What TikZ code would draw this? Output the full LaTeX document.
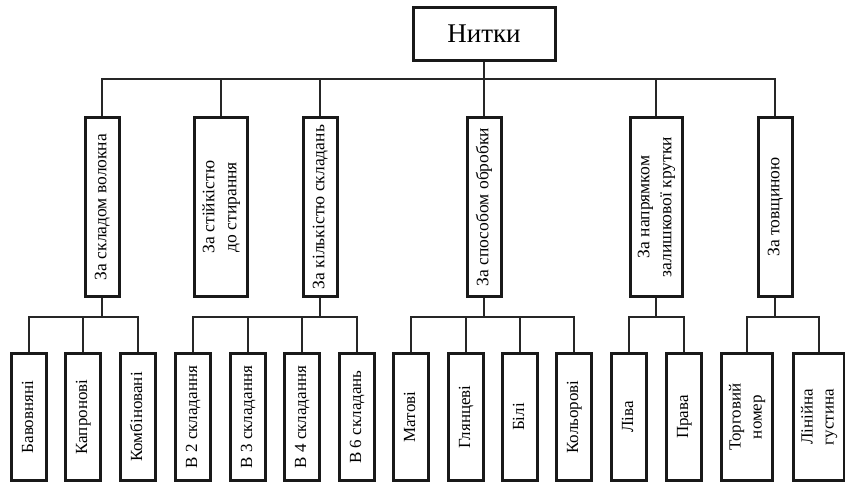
\documentclass[tikz,border=0pt]{standalone}
\usepackage{graphicx}
\usepackage{fontspec}
\setmainfont{Liberation Serif}
\usetikzlibrary{positioning}
\newcommand{\rottext}[1]{\rotatebox{90}{\begin{tabular}{@{}c@{}}#1\end{tabular}}}

\begin{document}
\begin{tikzpicture}[x=1pt, y=-1pt,
  bx/.style={draw=black!90, line width=3pt, inner sep=0pt, align=center},
  topbx/.style={bx, minimum width=142pt, minimum height=53pt, font=\fontsize{27}{30}\selectfont},
  catbx/.style={bx, minimum width=34pt, minimum height=179pt, font=\fontsize{17.5}{22}\selectfont},
  leafbx/.style={bx, minimum width=35pt, minimum height=127pt, font=\fontsize{17}{21}\selectfont},
  ln/.style={draw=black!85, line width=1.1pt}]
\useasboundingbox (0,0) rectangle (845,484);
% Root
\node[topbx] (root) at (484,34) {Нитки};
% Categories
\node[catbx] (fibre) at (102,207) {\rottext{За складом волокна}};
\node[catbx, minimum width=53pt] (wear) at (221,207) {\rottext{За стійкістю\\до стирання}};
\node[catbx] (ply) at (320,207) {\rottext{За кількістю складань}};
\node[catbx] (finish) at (484,207) {\rottext{За способом обробки}};
\node[catbx, minimum width=52pt] (twist) at (656,207) {\rottext{За напрямком\\залишкової крутки}};
\node[catbx] (thick) at (775,207) {\rottext{За товщиною}};
% Leaves: fibre
\node[leafbx] (cotton) at (29,417) {\rottext{Бавовняні}};
\node[leafbx] (nylon) at (83,417) {\rottext{Капронові}};
\node[leafbx] (mixed) at (138,417) {\rottext{Комбіновані}};
% Leaves: ply
\node[leafbx] (ply2) at (193,417) {\rottext{В 2 складання}};
\node[leafbx] (ply3) at (248,417) {\rottext{В 3 складання}};
\node[leafbx] (ply4) at (302,417) {\rottext{В 4 складання}};
\node[leafbx] (ply6) at (357,417) {\rottext{В 6 складань}};
% Leaves: finish
\node[leafbx] (matte) at (411,417) {\rottext{Матові}};
\node[leafbx] (gloss) at (466,417) {\rottext{Глянцеві}};
\node[leafbx] (white) at (520,417) {\rottext{Білі}};
\node[leafbx] (colour) at (574,417) {\rottext{Кольорові}};
% Leaves: twist
\node[leafbx] (left) at (629,417) {\rottext{Ліва}};
\node[leafbx] (right) at (684,417) {\rottext{Права}};
% Leaves: thickness
\node[leafbx, minimum width=51pt] (tradeno) at (747,417) {\rottext{Торговий\\номер}};
\node[leafbx, minimum width=51pt] (density) at (819,417) {\rottext{Лінійна\\густина}};
% Connectors
\foreach \c in {fibre,wear,ply,finish,twist,thick}
  \draw[ln] (root.south) -- ++(0,17) -| (\c.north);
\foreach \c in {cotton,nylon,mixed}
  \draw[ln] (fibre.south) -- ++(0,19) -| (\c.north);
\foreach \c in {ply2,ply3,ply4,ply6}
  \draw[ln] (ply.south) -- ++(0,19) -| (\c.north);
\foreach \c in {matte,gloss,white,colour}
  \draw[ln] (finish.south) -- ++(0,19) -| (\c.north);
\foreach \c in {left,right}
  \draw[ln] (twist.south) -- ++(0,19) -| (\c.north);
\foreach \c in {tradeno,density}
  \draw[ln] (thick.south) -- ++(0,19) -| (\c.north);
\end{tikzpicture}
\end{document}
